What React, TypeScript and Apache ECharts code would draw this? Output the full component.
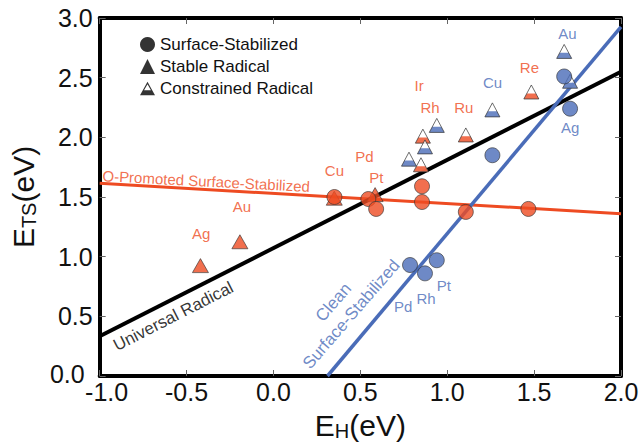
import React, { useEffect, useRef } from "react";
import * as echarts from "echarts";

// ---- data ----
const X_MIN = -1.0, X_MAX = 2.0, X_STEP = 0.5;
const Y_MIN = 0.0, Y_MAX = 3.0, Y_STEP = 0.5;

// fitted trend lines (end points)
const orangeLine = [[-1.0, 1.615], [2.0, 1.36]];
const blackLine = [[-1.0, 0.333], [2.0, 2.55]];
const blueLine = [[0.311, 0.0], [2.0, 2.925]];

// O-promoted (orange) points
const stableRadicalO = [[-0.42, 0.925], [-0.193, 1.125], [0.35, 1.49], [0.585, 1.52]];
const surfaceO = [[0.351, 1.5], [0.546, 1.483], [0.591, 1.4], [0.855, 1.59], [0.855, 1.458], [1.107, 1.375], [1.467, 1.4]];
const constrainedO = [[0.849, 1.77], [0.86, 2.01], [1.107, 2.02], [1.484, 2.38]];

// clean (blue) points
const surfaceB = [[0.786, 0.93], [0.872, 0.86], [0.94, 0.97], [1.26, 1.85], [1.673, 2.51], [1.707, 2.24]];
const constrainedB = [[0.78, 1.817], [0.872, 1.92], [0.94, 2.1], [1.26, 2.23], [1.673, 2.72], [1.707, 2.47]];

// metal labels [text, x, y]
const orangeLabels: [string, number, number][] = [
  ["Cu", 0.351, 1.725], ["Pd", 0.523, 1.842], ["Pt", 0.592, 1.667], ["Ir", 0.838, 2.433],
  ["Rh", 0.901, 2.25], ["Ru", 1.095, 2.25], ["Re", 1.473, 2.583], ["Au", -0.181, 1.417], ["Ag", -0.416, 1.192],
];
const blueLabels: [string, number, number][] = [
  ["Au", 1.691, 2.867], ["Cu", 1.261, 2.458], ["Ag", 1.708, 2.083],
  ["Pd", 0.746, 0.583], ["Rh", 0.878, 0.65], ["Pt", 0.981, 0.758],
];
// line annotations [text, x, y]
const lineLabels: [string, number, number][] = [
  ["O-Promoted Surface-Stabilized", -0.387, 1.633],
  ["Universal Radical", -0.576, 0.5],
  ["Clean", 0.345, 0.617],
  ["Surface-Stabilized", 0.448, 0.517],
];

const LEGEND_NAMES = ["Surface-Stabilized", "Stable Radical", "Constrained Radical"];

// ---- styles ----
const ORANGE = "#EE4B22";
const BLUE = "#4A6CB8";
const FONT = "Liberation Sans, Arial, Helvetica, sans-serif";
const EDGE = "#333";
const LINE_LABEL_STYLE = [
  { color: ORANGE, size: 15, rotate: -3 },
  { color: "#000", size: 17, rotate: 27 },
  { color: BLUE, size: 17, rotate: 49 },
  { color: BLUE, size: 17, rotate: 49 },
];
const TRI_W = 15, TRI_H = 14;
const TRAPEZOID = "path://M0,40L100,40L80,0L20,0Z";
const LEGEND_CONSTRAINED_ICON =
  "path://M50,0L100,90L0,90Z M50,16L27,56L73,56Z";

function constrainedSeries(data: number[][], color: string) {
  return [
    {
      type: "scatter", name: LEGEND_NAMES[2], data, symbol: "triangle",
      symbolSize: [TRI_W, TRI_H], z: 3,
      itemStyle: { color: "#fff", borderWidth: 0 },
    },
    {
      type: "scatter", name: LEGEND_NAMES[2], data, symbol: TRAPEZOID,
      symbolSize: [TRI_W, TRI_H * 0.4], symbolOffset: [0, TRI_H * 0.3], z: 3,
      itemStyle: { color, borderWidth: 0 },
    },
    {
      type: "scatter", name: LEGEND_NAMES[2], data, symbol: "triangle",
      symbolSize: [TRI_W, TRI_H], z: 3,
      itemStyle: { color: "rgba(0,0,0,0)", borderColor: EDGE, borderWidth: 0.9 },
    },
  ];
}

function labelSeries(rows: [string, number, number][], color: string, size: number) {
  return {
    type: "scatter", silent: true, symbolSize: 1, z: 6,
    itemStyle: { color: "rgba(0,0,0,0)" },
    data: rows.map(([t, x, y]) => ({ name: t, value: [x, y] })),
    label: { show: true, position: "inside", formatter: "{b}", color, fontSize: size, fontFamily: FONT },
  };
}

export default function App() {
  const ref = useRef<HTMLDivElement>(null);
  useEffect(() => {
    document.body.style.margin = "0";
    const chart = echarts.init(ref.current!, null, { renderer: "svg" });
    const axisCommon = {
      axisLine: { show: true, onZero: false, lineStyle: { color: "#000", width: 4 } },
      axisTick: { show: true, inside: true, length: 6, lineStyle: { color: "#666", width: 1 } },
      splitLine: { show: false },
    };
    const lineSeries = (data: number[][], color: string, width: number) => ({
      type: "line", data, symbol: "none", silent: true, z: 2,
      lineStyle: { color, width }, itemStyle: { color },
    });
    const nameRich = {
      a: { fontSize: 30, lineHeight: 32, fontFamily: FONT, color: "#111" },
      s: { fontSize: 20, lineHeight: 10, verticalAlign: "bottom", fontFamily: FONT, color: "#111" },
    };
    const tickFont = { fontSize: 25, lineHeight: 16, color: "#111", fontFamily: FONT };
    const option: any = {
      animation: false,
      backgroundColor: "#fff",
      grid: { left: 97, right: 22, top: 18, bottom: 68 },
      xAxis: [
        {
          ...axisCommon, type: "value", position: "bottom", min: X_MIN, max: X_MAX, interval: X_STEP,
          axisLabel: {
            margin: 8, ...tickFont,
            // the corner label is nudged right so it does not run into the y-axis "0.0"
            formatter: (v: number) => (v === X_MIN ? "{m|" + v.toFixed(1) + "}" : v.toFixed(1)),
            rich: { m: { ...tickFont, padding: [0, 0, 0, 14] } },
          },
          name: "{a|E}{s|H}{a|(eV)}", nameLocation: "middle", nameGap: 33,
          nameTextStyle: { rich: nameRich },
        },
        {
          ...axisCommon, type: "value", position: "top", min: X_MIN, max: X_MAX, interval: X_STEP,
          axisLabel: { show: false },
        },
      ],
      yAxis: [
        {
          ...axisCommon, type: "value", position: "left", min: Y_MIN, max: Y_MAX, interval: Y_STEP,
          axisLabel: {
            margin: 7, ...tickFont,
            formatter: (v: number) => (v === Y_MIN ? "{z|" + v.toFixed(1) + "}" : v.toFixed(1)),
            rich: { z: { ...tickFont, padding: [0, 8, 4, 0] } },
          },
          name: "{a|E}{s|TS}{a|(eV)}", nameLocation: "middle", nameGap: 55, nameRotate: 90,
          nameTextStyle: { rich: nameRich },
        },
        {
          ...axisCommon, type: "value", position: "right", min: Y_MIN, max: Y_MAX, interval: Y_STEP,
          axisLabel: { show: false },
        },
      ],
      legend: {
        orient: "vertical", left: 135, top: 31, itemWidth: 15, itemHeight: 15, itemGap: 5,
        selectedMode: false,
        textStyle: { fontSize: 17, lineHeight: 17, color: "#111", fontFamily: FONT },
        data: [
          { name: LEGEND_NAMES[0], icon: "circle", itemStyle: { color: "#000", borderWidth: 0 } },
          { name: LEGEND_NAMES[1], icon: "triangle", itemStyle: { color: "#000", borderWidth: 0 } },
          { name: LEGEND_NAMES[2], icon: LEGEND_CONSTRAINED_ICON, itemStyle: { color: "#000", borderWidth: 0 } },
        ],
      },
      series: [
        lineSeries(orangeLine, ORANGE, 3),
        lineSeries(blackLine, "#000", 4),
        lineSeries(blueLine, BLUE, 3.5),
        {
          type: "scatter", name: LEGEND_NAMES[1], data: stableRadicalO, symbol: "triangle",
          symbolSize: [16, 14], z: 3,
          itemStyle: { color: ORANGE, borderColor: EDGE, borderWidth: 0.8 },
        },
        ...constrainedSeries(constrainedO, ORANGE),
        ...constrainedSeries(constrainedB, BLUE),
        {
          type: "scatter", name: LEGEND_NAMES[0], data: surfaceO, symbol: "circle", symbolSize: 15, z: 4,
          itemStyle: { color: ORANGE, borderColor: EDGE, borderWidth: 0.8 },
        },
        {
          type: "scatter", name: LEGEND_NAMES[0], data: surfaceB, symbol: "circle", symbolSize: 15, z: 4,
          itemStyle: { color: BLUE, borderColor: EDGE, borderWidth: 0.8 },
        },
        labelSeries(orangeLabels, ORANGE, 15),
        labelSeries(blueLabels, BLUE, 15),
        {
          type: "scatter", silent: true, symbolSize: 1, z: 6,
          itemStyle: { color: "rgba(0,0,0,0)" },
          data: lineLabels.map(([t, x, y], i) => ({
            name: t, value: [x, y],
            label: {
              show: true, position: "inside", formatter: "{b}", fontFamily: FONT,
              color: LINE_LABEL_STYLE[i].color, fontSize: LINE_LABEL_STYLE[i].size, rotate: LINE_LABEL_STYLE[i].rotate,
            },
          })),
        },
      ],
    };
    chart.setOption(option);
    return () => chart.dispose();
  }, []);
  return <div ref={ref} style={{ width: 643, height: 446, position: "absolute", left: 0, top: 0 }} />;
}
